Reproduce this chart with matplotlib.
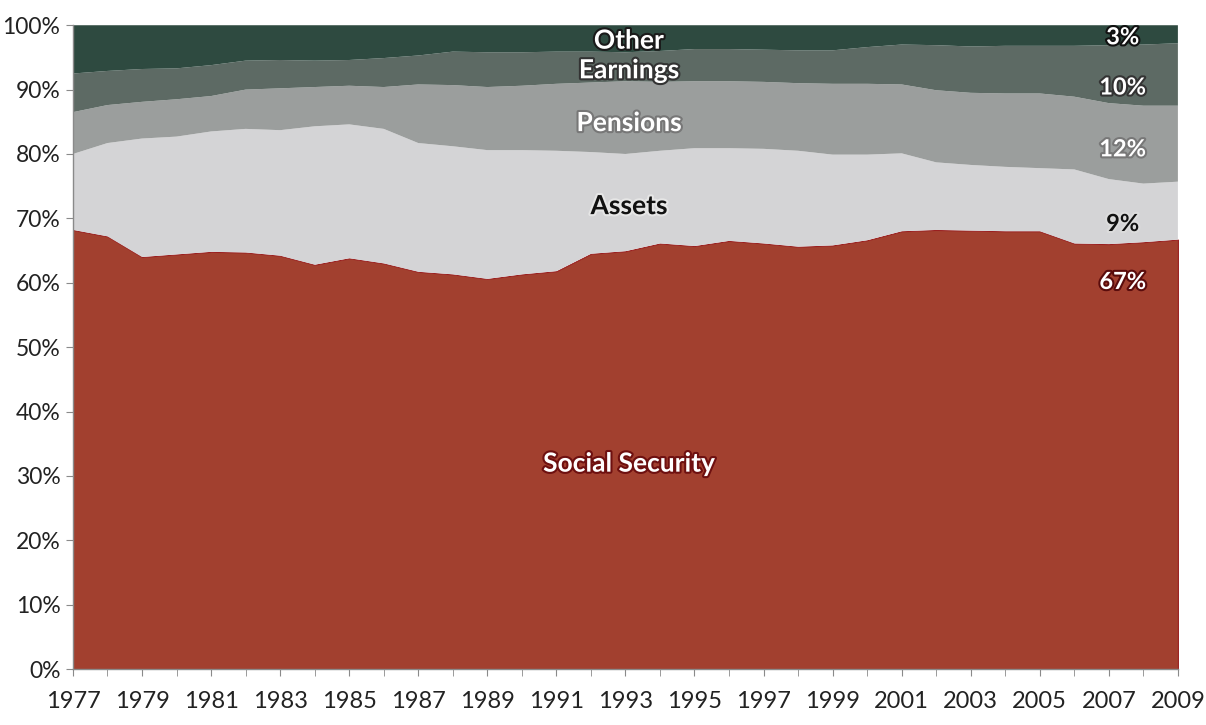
import matplotlib
matplotlib.use("Agg")
import matplotlib.pyplot as plt
import matplotlib.patheffects as pe
from matplotlib.ticker import FixedLocator, PercentFormatter

# Shares of income for older households, percent of total
years = list(range(1977, 2010))

social_security = [68.2, 67.2, 64.0, 64.4, 64.8, 64.7, 64.2, 62.8, 63.8, 63.0,
                   61.7, 61.3, 60.6, 61.3, 61.8, 64.5, 64.9, 66.1, 65.7, 66.5,
                   66.1, 65.6, 65.8, 66.6, 68.0, 68.2, 68.1, 68.0, 68.0, 66.1,
                   66.0, 66.3, 66.7]
assets = [11.8, 14.5, 18.4, 18.3, 18.7, 19.2, 19.5, 21.5, 20.8, 20.9,
          20.0, 19.9, 20.0, 19.3, 18.7, 15.8, 15.1, 14.4, 15.2, 14.4,
          14.7, 14.9, 14.1, 13.3, 12.1, 10.5, 10.2, 10.0, 9.8, 11.5,
          10.1, 9.1, 9.0]
pensions = [6.5, 5.9, 5.7, 5.8, 5.5, 6.1, 6.5, 6.1, 6.0, 6.5,
            9.1, 9.5, 9.8, 10.0, 10.4, 10.8, 11.3, 10.7, 10.4, 10.4,
            10.4, 10.5, 11.0, 11.0, 10.7, 11.2, 11.2, 11.4, 11.6, 11.3,
            11.8, 12.1, 11.8]
earnings = [6.0, 5.3, 5.1, 4.8, 4.8, 4.5, 4.4, 4.1, 4.0, 4.5,
            4.5, 5.2, 5.4, 5.2, 5.0, 4.8, 4.5, 4.8, 5.0, 5.0,
            5.0, 5.1, 5.2, 5.7, 6.2, 7.0, 7.2, 7.4, 7.4, 7.9,
            9.0, 9.5, 9.7]
other = [7.5, 7.1, 6.8, 6.7, 6.2, 5.5, 5.4, 5.5, 5.4, 5.1,
         4.7, 4.1, 4.2, 4.2, 4.1, 4.1, 4.2, 4.0, 3.7, 3.7,
         3.8, 3.9, 3.9, 3.4, 3.0, 3.1, 3.3, 3.2, 3.2, 3.2,
         3.1, 3.0, 2.8]

series_names = ["Social Security", "Assets", "Pensions", "Earnings", "Other"]
series_values = [social_security, assets, pensions, earnings, other]
colors = ["#a2402f", "#d4d4d6", "#9b9e9d", "#5d6a64", "#2e4a40"]
x_tick_labels = [str(y) for y in years[::2]]

plt.rcParams["font.family"] = ["Lato", "DejaVu Sans"]

fig = plt.figure(figsize=(12.06, 7.25), dpi=100)
ax = fig.add_axes([0.0605, 0.0772, 0.9162, 0.888])

polys = ax.stackplot(years, *series_values, colors=colors, linewidth=0)
polys[0].set_edgecolor("#9a1f1f")
polys[0].set_linewidth(0.8)

ax.set_xlim(years[0], years[-1])
ax.set_ylim(0, 100)

ax.xaxis.set_major_locator(FixedLocator(years[::2]))
ax.xaxis.set_minor_locator(FixedLocator(years))
ax.set_xticklabels(x_tick_labels)
ax.yaxis.set_major_locator(FixedLocator(range(0, 101, 10)))
ax.yaxis.set_major_formatter(PercentFormatter(decimals=0))

for side in ("top", "right"):
    ax.spines[side].set_visible(False)
for side in ("left", "bottom"):
    ax.spines[side].set_color("#8a8a8a")
    ax.spines[side].set_linewidth(1.0)

ax.tick_params(axis="x", which="both", direction="out", length=5,
               color="#8a8a8a", labelsize=17, pad=11, labelcolor="#222222")
ax.tick_params(axis="y", direction="out", length=5, color="#8a8a8a",
               labelsize=16.5, pad=4, labelcolor="#222222")


def label(x, y, text, color, stroke, size=19):
    ax.text(x, y, text, ha="center", va="center", fontsize=size,
            fontweight="bold", color=color,
            path_effects=[pe.withStroke(linewidth=3, foreground=stroke)])


# Series names inside the bands
label(1993.1, 97.6, "Other", "white", "#1a1a1a")
label(1993.1, 93.0, "Earnings", "white", "#333333")
label(1993.1, 84.8, "Pensions", "white", "#777777")
label(1993.1, 71.9, "Assets", "#111111", "#e6e6e6")
label(1993.1, 31.9, "Social Security", "white", "#6e1010")

# Final-year shares at the right edge
last = [s[-1] for s in series_values]
pct_style = {
    "Social Security": ("white", "#5a0c0c", 60.2),
    "Assets": ("#111111", "#dcdcdc", 69.2),
    "Pensions": ("white", "#777777", 80.8),
    "Earnings": ("white", "#333333", 90.4),
    "Other": ("white", "#111111", 98.2),
}
for name, v in zip(series_names, last):
    c, s, y = pct_style[name]
    label(2007.4, y, f"{round(v)}%", c, s, size=17)

fig.savefig("out.png", dpi=100, facecolor="white")
